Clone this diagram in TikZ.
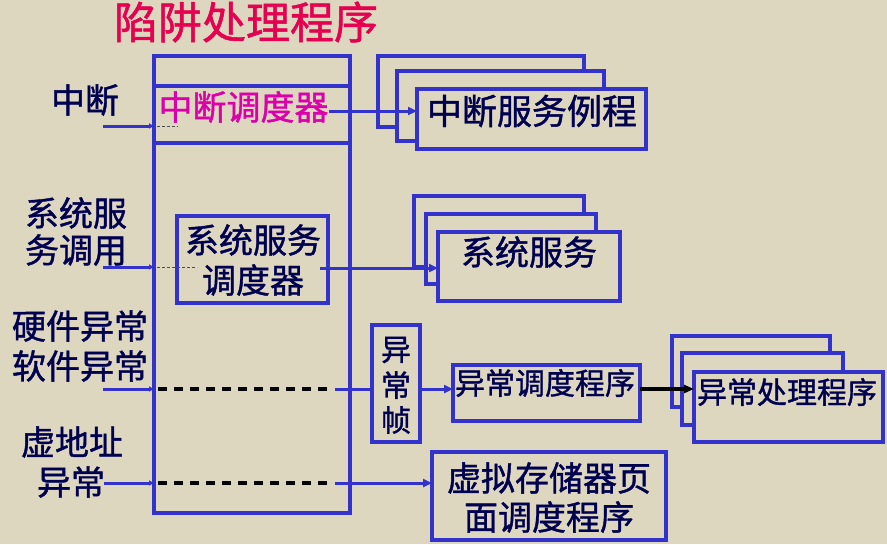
\documentclass[tikz,border=0pt]{standalone}
\usepackage{fontspec}
\setmainfont{Noto Sans CJK SC}[UprightFeatures={FakeBold=1.2}]
\usetikzlibrary{arrows.meta}
\definecolor{bg}{RGB}{222,215,192}
\definecolor{bx}{RGB}{51,51,204}
\definecolor{tx}{RGB}{0,0,80}
\definecolor{mg}{RGB}{220,0,170}
\definecolor{tt}{RGB}{230,0,80}
\tikzset{
  boxs/.style={draw=bx, line width=3.5pt, fill=bg, inner sep=0pt, outer sep=0pt},
  txt/.style={text=tx, inner sep=0pt, font=\fontsize{#1}{#1}\selectfont},
  txt/.default=34,
  barrow/.style={draw=bx, line width=3pt, -{Triangle[length=9pt,width=8pt]}},
  sarrow/.style={draw=bx, line width=3pt, -{Triangle[length=5pt,width=5pt]}},
  bline/.style={draw=bx, line width=3pt},
  dots/.style={draw=black!70, line width=0.9pt, dash pattern=on 3pt off 2pt},
  bigdash/.style={draw=black, line width=3.2pt, dash pattern=on 9pt off 7pt},
  karrow/.style={draw=black, line width=3.2pt, -{Triangle[length=10pt,width=8pt]}}
}
\begin{document}
\begin{tikzpicture}[x=1pt,y=-1pt]
\fill[bg] (0,0) rectangle (887,544);
\useasboundingbox (0,0) rectangle (887,544);

% title
\node[inner sep=0pt, text=tt, font=\fontsize{44}{44}\selectfont] (title) at (246,22) {陷阱处理程序};

% main box
\node[boxs, fill=none, minimum width=196pt, minimum height=457pt] (main) at (252,284.5) {};
\draw[bx, line width=3.5pt] (main.west |- 0,86) coordinate (h1l) -- (main.east |- 0,86) coordinate (h1r);
\draw[bx, line width=3.5pt] (main.west |- 0,143) coordinate (h2l) -- (main.east |- 0,143) coordinate (h2r);
\node[inner sep=0pt, text=mg, font=\fontsize{34}{34}\selectfont] (idisp) at (243.5,107) {中断调度器};

% left labels
\node[txt=34] (l1) at (85,100) {中断};
\node[txt=34] (l2a) at (76,213) {系统服};
\node[txt=34] (l2b) at (76,250) {务调用};
\node[txt=34] (l3a) at (80,326) {硬件异常};
\node[txt=34] (l3b) at (80,366) {软件异常};
\node[txt=34] (l4a) at (72,442) {虚地址};
\node[txt=34] (l4b) at (71,482) {异常};

% interrupt service stack
\node[boxs, minimum width=206pt, minimum height=71pt] (s1a) at (481,91.5) {};
\node[boxs, minimum width=207pt, minimum height=70pt] (s1b) at (500.5,106) {};
\node[boxs, minimum width=229pt, minimum height=60pt] (s1c) at (531.5,119) {};
\node[txt=35] (s1t) at (532,111) {中断服务例程};

% system service dispatcher
\node[boxs, fill=none, minimum width=151pt, minimum height=87pt] (sdisp) at (252.5,259.5) {};
\node[txt=34] (sd1) at (253,240) {系统服务};
\node[txt=34] (sd2) at (253,280) {调度器};

% system service stack
\node[boxs, minimum width=170pt, minimum height=71pt] (s2a) at (499,231.5) {};
\node[boxs, minimum width=170pt, minimum height=70pt] (s2b) at (511,249) {};
\node[boxs, minimum width=182pt, minimum height=69pt] (s2c) at (529,266.5) {};
\node[txt=34] (s2t) at (529,252) {系统服务};

% exception frame
\node[boxs, minimum width=48pt, minimum height=117pt] (frame) at (396,383.5) {};
\node[txt=30] (fr1) at (396,350) {异};
\node[txt=30] (fr2) at (396,385) {常};
\node[txt=30] (fr3) at (396,420) {帧};

% exception dispatcher
\node[boxs, minimum width=187pt, minimum height=56pt] (edisp) at (546.5,393) {};
\node[txt=30] (edt) at (545,383) {异常调度程序};

% exception handler stack
\node[boxs, minimum width=158pt, minimum height=71pt] (s3a) at (751,371.5) {};
\node[boxs, minimum width=161pt, minimum height=72pt] (s3b) at (762.5,389) {};
\node[boxs, minimum width=189pt, minimum height=70pt] (s3c) at (788.5,407) {};
\node[txt=30] (s3t) at (787,392) {异常处理程序};

% virtual memory page dispatcher
\node[boxs, minimum width=234pt, minimum height=88pt] (vm) at (549,496) {};
\node[txt=34] (vm1) at (549,478) {虚拟存储器页};
\node[txt=34] (vm2) at (549,517) {面调度程序};

% connectors: interrupt
\coordinate (c1) at (103,126);
\draw[sarrow] (c1) -- (c1 -| main.west);
\draw[dots] ([xshift=3pt]c1 -| main.west) -- (178,126);
\coordinate (c1r) at ([yshift=-4pt]idisp.east);
\draw[barrow] (c1r) -- (c1r -| s1c.west);

% connectors: system service
\coordinate (c2) at (103,267);
\draw[sarrow] (c2) -- (c2 -| main.west);
\draw[dots] ([xshift=3pt]c2 -| main.west) -- (197,267);
\coordinate (c2r) at (320,268);
\draw[barrow] (c2r) -- (c2r -| s2c.west);

% connectors: hardware/software exception
\coordinate (c3) at (103,389);
\draw[sarrow] (c3) -- (c3 -| main.west);
\draw[bigdash] ([xshift=4pt]c3 -| main.west) -- (331,389) coordinate (c3d);
\draw[bline] (335,389) -- (c3 -| frame.west);
\draw[barrow] (c3 -| frame.east) -- (c3 -| edisp.west);
\draw[karrow] (c3 -| edisp.east) -- (c3 -| s3c.west);

% connectors: virtual address exception
\coordinate (c4) at (104,483);
\draw[sarrow] (c4) -- (c4 -| main.west);
\draw[bigdash] ([xshift=4pt]c4 -| main.west) -- (331,483);
\draw[barrow] (335,483) -- (c4 -| vm.west);
\end{tikzpicture}
\end{document}
